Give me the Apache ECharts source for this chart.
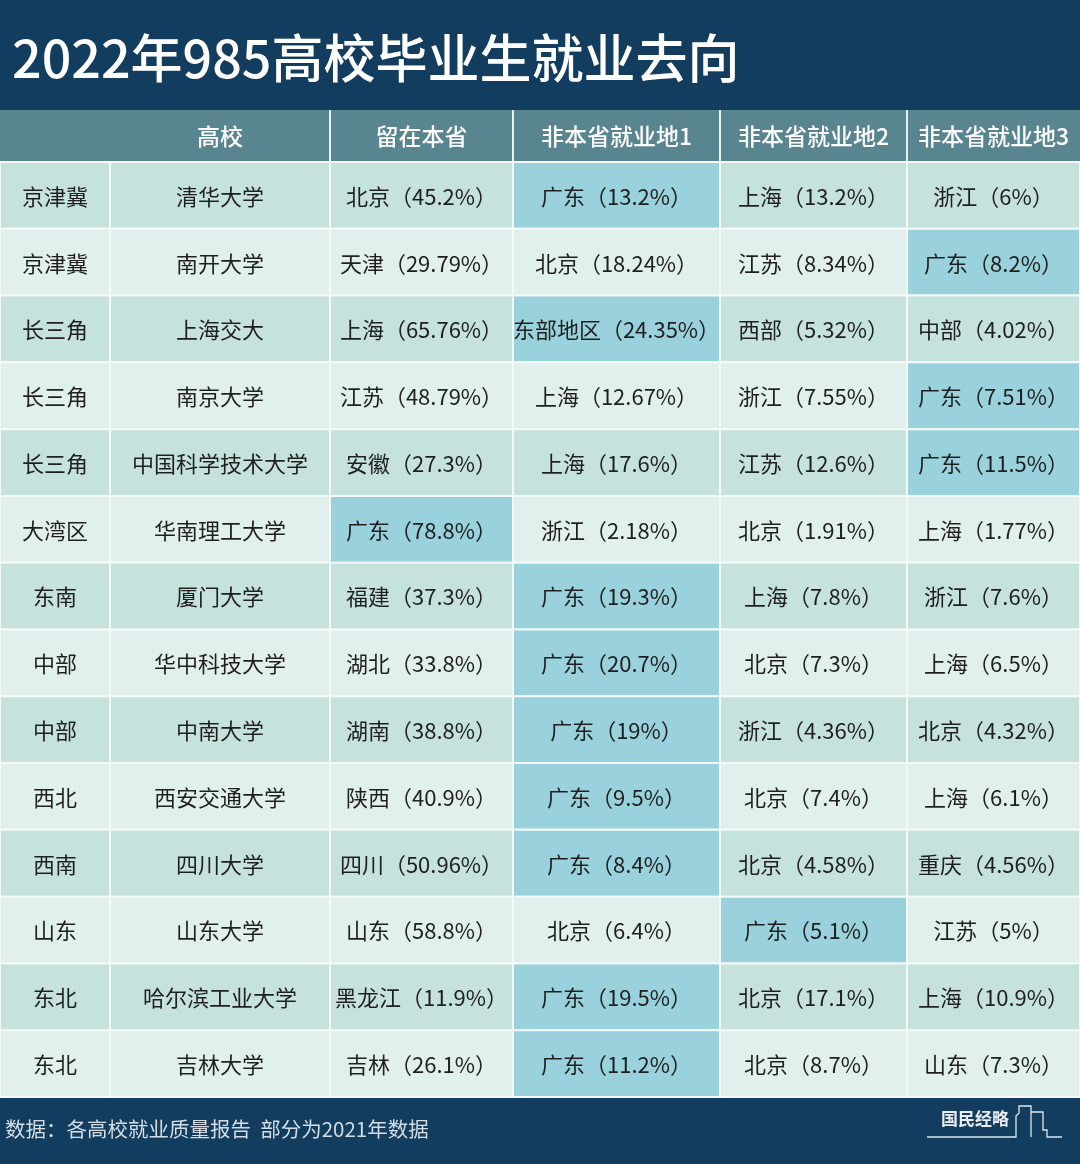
<!DOCTYPE html>
<html>
<head>
<meta charset="utf-8">
<script src="https://cdn.jsdelivr.net/npm/echarts@6/dist/echarts.min.js"></script>
<style>
  html, body { margin: 0; padding: 0; background: #133d5e; }
  #main { width: 1080px; height: 1164px; }
</style>
</head>
<body>
<div id="main"></div>
<script>
// table content
const headers = ['高校', '留在本省', '非本省就业地1', '非本省就业地2', '非本省就业地3'];
const regions = ['京津冀', '京津冀', '长三角', '长三角', '长三角', '大湾区', '东南', '中部', '中部', '西北', '西南', '山东', '东北', '东北'];
const universities = ['清华大学', '南开大学', '上海交大', '南京大学', '中国科学技术大学', '华南理工大学', '厦门大学',
  '华中科技大学', '中南大学', '西安交通大学', '四川大学', '山东大学', '哈尔滨工业大学', '吉林大学'];
const homeNames = ['北京', '天津', '上海', '江苏', '安徽', '广东', '福建', '湖北', '湖南', '陕西', '四川', '山东', '黑龙江', '吉林'];
const homeShares = [45.2, 29.79, 65.76, 48.79, 27.3, 78.8, 37.3, 33.8, 38.8, 40.9, 50.96, 58.8, 11.9, 26.1];
const dest1Names = ['广东', '北京', '东部地区', '上海', '上海', '浙江', '广东', '广东', '广东', '广东', '广东', '北京', '广东', '广东'];
const dest1Shares = [13.2, 18.24, 24.35, 12.67, 17.6, 2.18, 19.3, 20.7, 19, 9.5, 8.4, 6.4, 19.5, 11.2];
const dest2Names = ['上海', '江苏', '西部', '浙江', '江苏', '北京', '上海', '北京', '浙江', '北京', '北京', '广东', '北京', '北京'];
const dest2Shares = [13.2, 8.34, 5.32, 7.55, 12.6, 1.91, 7.8, 7.3, 4.36, 7.4, 4.58, 5.1, 17.1, 8.7];
const dest3Names = ['浙江', '广东', '中部', '广东', '广东', '上海', '浙江', '上海', '北京', '上海', '重庆', '江苏', '上海', '山东'];
const dest3Shares = [6, 8.2, 4.02, 7.51, 11.5, 1.77, 7.6, 6.5, 4.32, 6.1, 4.56, 5, 10.9, 7.3];
// column index of the highlighted cell in each row
const highlightCols = [3, 5, 3, 5, 5, 2, 3, 3, 3, 3, 3, 4, 3, 3];

// layout
const colEdges = [0, 110, 330, 513, 720, 907, 1080];
const navy = '#133d5e';
const headerBg = '#588590';
const rowDark = '#c6e2dd';
const rowLight = '#e1f0ec';
const highlight = '#99d2dc';
const cellFont = '22px "Noto Sans CJK SC", sans-serif';

const fmt = (name, v) => name + '（' + v + '%）';
const cellText = (r, c) => {
  switch (c) {
    case 0: return regions[r];
    case 1: return universities[r];
    case 2: return fmt(homeNames[r], homeShares[r]);
    case 3: return fmt(dest1Names[r], dest1Shares[r]);
    case 4: return fmt(dest2Names[r], dest2Shares[r]);
    default: return fmt(dest3Names[r], dest3Shares[r]);
  }
};

const bodyData = [];
universities.forEach((u, r) => {
  for (let c = 0; c < 6; c++) bodyData.push([c, r]);
});
const headerData = headers.map((h, k) => [k + 1, 0]);

const chart = echarts.init(document.getElementById('main'));

const option = {
  animation: false,
  backgroundColor: navy,
  title: {
    text: '2022年985高校毕业生就业去向',
    left: 7,
    top: 27,
    textStyle: {
      color: '#ffffff',
      fontSize: 52,
      fontWeight: 500,
      fontFamily: '"Noto Sans CJK SC", sans-serif'
    }
  },
  grid: [
    { left: 0, right: 0, top: 110, height: 51 },
    { left: 0, right: 0, top: 162, bottom: 67 }
  ],
  xAxis: [
    { gridIndex: 0, type: 'value', min: 0, max: 1080, show: false },
    { gridIndex: 1, type: 'value', min: 0, max: 1080, show: false }
  ],
  yAxis: [
    { gridIndex: 0, type: 'category', data: ['header'], show: false },
    { gridIndex: 1, type: 'category', data: universities, inverse: true, show: false }
  ],
  series: [
    {
      type: 'custom',
      xAxisIndex: 0,
      yAxisIndex: 0,
      data: headerData,
      encode: { x: 0, y: 1 },
      renderItem: (params, api) => {
        const c = api.value(0);
        const k = params.dataIndex;
        const h = api.size([0, 1])[1];
        const left = api.coord([c === 1 ? 0 : colEdges[c], 0]);
        const x0 = api.coord([colEdges[c], 0]);
        const x1 = api.coord([colEdges[c + 1], 0]);
        const children = [
          {
            type: 'rect',
            shape: { x: left[0], y: left[1] - h / 2, width: x1[0] - left[0], height: h },
            style: { fill: headerBg }
          },
          {
            type: 'text',
            x: (x0[0] + x1[0]) / 2,
            y: x0[1] + 1,
            style: {
              text: headers[k],
              fill: '#ffffff',
              font: '500 23px "Noto Sans CJK SC", sans-serif',
              align: 'center',
              verticalAlign: 'middle'
            }
          }
        ];
        if (c > 1) {
          children.push({
            type: 'line',
            shape: { x1: x0[0], y1: x0[1] - h / 2, x2: x0[0], y2: x0[1] + h / 2 },
            style: { stroke: '#e8f1f2', lineWidth: 2 }
          });
        }
        return { type: 'group', children };
      }
    },
    {
      type: 'custom',
      xAxisIndex: 1,
      yAxisIndex: 1,
      data: bodyData,
      encode: { x: 0, y: 1 },
      renderItem: (params, api) => {
        const c = api.value(0);
        const r = api.value(1);
        const h = api.size([0, 1])[1];
        const p0 = api.coord([colEdges[c], r]);
        const p1 = api.coord([colEdges[c + 1], r]);
        let fill = r % 2 === 0 ? rowDark : rowLight;
        if (highlightCols[r] === c) fill = highlight;
        return {
          type: 'group',
          children: [
            {
              type: 'rect',
              shape: { x: p0[0], y: p0[1] - h / 2, width: p1[0] - p0[0], height: h },
              style: { fill, stroke: '#f4f9f8', lineWidth: 2 }
            },
            {
              type: 'text',
              x: (p0[0] + p1[0]) / 2,
              y: p0[1] + 1,
              style: {
                text: cellText(r, c),
                fill: '#1f1f1f',
                font: cellFont,
                align: 'center',
                verticalAlign: 'middle'
              }
            }
          ]
        };
      }
    }
  ],
  graphic: [
    {
      type: 'text',
      left: 5,
      top: 1119,
      style: {
        text: '数据：各高校就业质量报告  部分为2021年数据',
        fill: '#d5dde4',
        font: '20.5px "Noto Sans CJK SC", sans-serif'
      }
    },
    {
      type: 'text',
      left: 941,
      top: 1110,
      style: {
        text: '国民经略',
        fill: '#e8eef3',
        font: 'bold 17px "Noto Sans CJK SC", sans-serif'
      }
    },
    {
      type: 'polyline',
      shape: {
        points: [[927, 1137], [1016, 1137], [1016, 1116], [1019, 1113], [1019, 1106], [1031, 1106], [1031, 1137]]
      },
      style: { stroke: '#dfe7ee', lineWidth: 1.3, fill: null }
    },
    {
      type: 'polyline',
      shape: {
        points: [[1031, 1112], [1043, 1112], [1043, 1130], [1047, 1130], [1047, 1137], [1062, 1137]]
      },
      style: { stroke: '#dfe7ee', lineWidth: 1.3, fill: null }
    }
  ]
};

chart.setOption(option);
</script>
</body>
</html>
